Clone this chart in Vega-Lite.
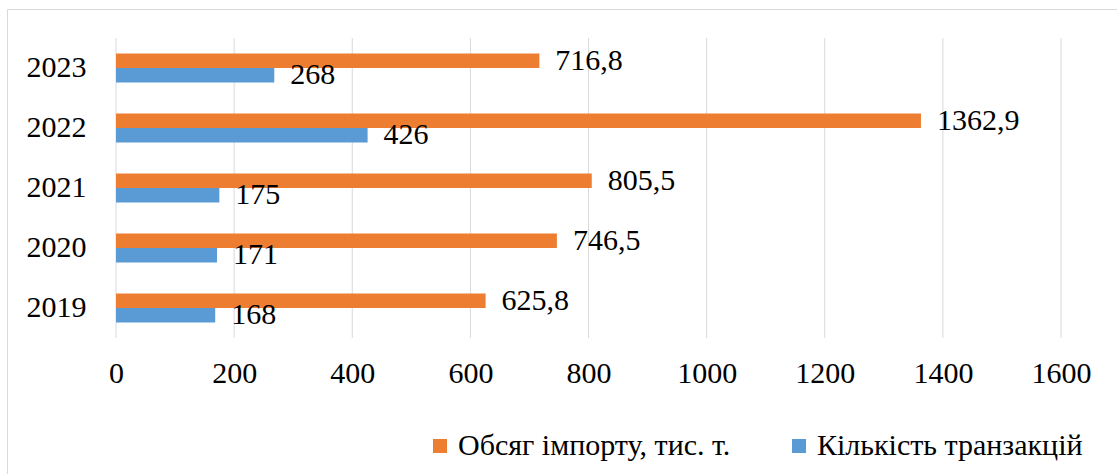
{
  "$schema": "https://vega.github.io/schema/vega-lite/v6.json",
  "width": 1113,
  "height": 468,
  "autosize": {"type": "none"},
  "padding": {"left": 7, "top": 9, "right": -3, "bottom": -3},
  "background": "white",
  "config": {"view": {"stroke": "#d9d9d9", "strokeWidth": 1}, "font": "'Liberation Serif', 'Times New Roman', Tinos, 'DejaVu Serif', serif"},
  "datasets": {
    "bars": [
      {"year": "2019", "series": "Обсяг імпорту, тис. т.", "value": 625.8, "label": "625,8"},
      {"year": "2019", "series": "Кількість транзакцій", "value": 168, "label": "168"},
      {"year": "2020", "series": "Обсяг імпорту, тис. т.", "value": 746.5, "label": "746,5"},
      {"year": "2020", "series": "Кількість транзакцій", "value": 171, "label": "171"},
      {"year": "2021", "series": "Обсяг імпорту, тис. т.", "value": 805.5, "label": "805,5"},
      {"year": "2021", "series": "Кількість транзакцій", "value": 175, "label": "175"},
      {"year": "2022", "series": "Обсяг імпорту, тис. т.", "value": 1362.9, "label": "1362,9"},
      {"year": "2022", "series": "Кількість транзакцій", "value": 426, "label": "426"},
      {"year": "2023", "series": "Обсяг імпорту, тис. т.", "value": 716.8, "label": "716,8"},
      {"year": "2023", "series": "Кількість транзакцій", "value": 268, "label": "268"}
    ],
    "grid": [
      {"tick": 0}, {"tick": 200}, {"tick": 400}, {"tick": 600}, {"tick": 800},
      {"tick": 1000}, {"tick": 1200}, {"tick": 1400}, {"tick": 1600}
    ]
  },
  "resolve": {"scale": {"y": "independent"}, "axis": {"y": "independent", "x": "independent"}},
  "layer": [
    {
      "data": {"name": "grid"},
      "mark": {"type": "rule", "color": "#d9d9d9", "strokeWidth": 1},
      "encoding": {
        "x": {"field": "tick", "type": "quantitative",
              "scale": {"domain": [0, 1600], "range": [109, 1054], "nice": false},
              "axis": {"orient": "bottom", "title": null, "grid": false, "domain": false, "ticks": false, "format": "d",
                       "labelPadding": 0, "offset": -119, "values": [0, 200, 400, 600, 800, 1000, 1200, 1400, 1600],
                       "labelFlush": false, "labelOverlap": false, "labelFontSize": 30, "labelColor": "#000"}},
        "y": {"datum": 0, "type": "quantitative", "scale": {"domain": [0, 1], "range": [329, 29]}, "axis": null},
        "y2": {"datum": 1}
      }
    },
    {
      "data": {"name": "bars"},
      "encoding": {
        "y": {
          "field": "year", "type": "nominal", "sort": "descending",
          "scale": {"range": [29, 329], "paddingInner": 0.52, "paddingOuter": 0.26},
          "axis": {"title": null, "domain": false, "ticks": false, "grid": false, "labelPadding": 0, "offset": -79,
                   "labelFontSize": 30, "labelColor": "#000"}
        },
        "x": {"field": "value", "type": "quantitative", "axis": null},
        "yOffset": {
          "field": "series", "type": "nominal",
          "sort": ["Обсяг імпорту, тис. т.", "Кількість транзакцій"],
          "scale": {"paddingInner": 0, "paddingOuter": 0}
        }
      },
      "layer": [
        {
          "mark": {"type": "bar"},
          "encoding": {
            "color": {
              "field": "series", "type": "nominal",
              "sort": ["Обсяг імпорту, тис. т.", "Кількість транзакцій"],
              "scale": {"domain": ["Обсяг імпорту, тис. т.", "Кількість транзакцій"], "range": ["#ED7D31", "#5B9BD5"]},
              "legend": {"orient": "none", "legendX": 418, "legendY": 422, "direction": "horizontal", "title": null,
                         "symbolType": "square", "symbolSize": 196, "symbolStrokeWidth": 0, "symbolOpacity": 1,
                         "labelFontSize": 30, "labelColor": "#000", "labelOffset": 3,
                         "columnPadding": 53, "padding": 0, "labelLimit": 0}
            }
          }
        },
        {
          "mark": {"type": "text", "align": "left", "baseline": "middle", "dx": 16, "fontSize": 30, "color": "#000"},
          "encoding": {"text": {"field": "label"}}
        }
      ]
    }
  ]
}
